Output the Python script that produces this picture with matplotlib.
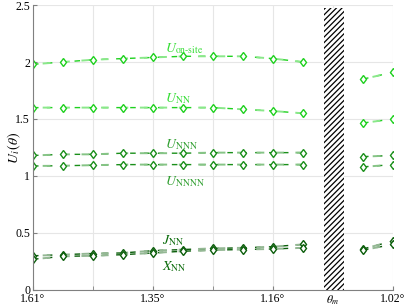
import numpy as np
import matplotlib.pyplot as plt
from matplotlib.patches import Rectangle

plt.rcParams['font.family'] = ['Liberation Serif', 'DejaVu Serif']
plt.rcParams['mathtext.fontset'] = 'stix'
plt.rcParams['hatch.linewidth'] = 0.9

# positions along the twist-angle axis (gap at theta_m)
xpos = [0, 1, 2, 3, 4, 5, 6, 7, 8, 9, 11, 12]
tick_pos = [0, 4, 8, 10, 12]
tick_labels = ['1.61°', '1.35°', '1.16°', r'$\theta_m$', '1.02°']

u_onsite = [1.98, 2.00, 2.02, 2.03, 2.04, 2.05, 2.05, 2.05, 2.03, 2.00, 1.85, 1.91]
u_nn = [1.60, 1.60, 1.60, 1.60, 1.60, 1.60, 1.60, 1.585, 1.57, 1.55, 1.465, 1.50]
u_nnn = [1.18, 1.19, 1.19, 1.20, 1.20, 1.20, 1.205, 1.205, 1.205, 1.205, 1.17, 1.18]
u_nnnn = [1.088, 1.09, 1.095, 1.10, 1.10, 1.10, 1.10, 1.10, 1.10, 1.10, 1.08, 1.10]
j_nn = [0.30, 0.31, 0.32, 0.325, 0.345, 0.355, 0.365, 0.37, 0.38, 0.40, 0.36, 0.43]
x_nn = [0.27, 0.295, 0.30, 0.31, 0.325, 0.34, 0.35, 0.355, 0.36, 0.37, 0.35, 0.40]

series = [
    (u_onsite, '#1fd11f', '#8ae88a'),
    (u_nn, '#1fd11f', '#8ae88a'),
    (u_nnn, '#1a8f1a', '#86c486'),
    (u_nnnn, '#1a8f1a', '#86c486'),
    (j_nn, '#0b5e0b', '#94b894'),
    (x_nn, '#0b5e0b', '#94b894'),
]

fig = plt.figure(figsize=(4.07, 3.07), dpi=100)
ax = fig.add_axes([0.081, 0.0554, 0.8846, 0.9283])


def draw(ax, xs, ys, dark, light):
    # two-tone dashes: dark and light segments alternating
    l1, = ax.plot(xs, ys, color=dark, lw=1.0)
    l1.set_dashes((4, 6))
    l2, = ax.plot(xs, ys, color=light, lw=1.4)
    l2.set_dashes((0, 5, 4, 1))
    ax.plot(xs, ys, ls='none', marker='d', ms=4.5, mfc='white', mec=dark, mew=1.0)


for ys, dark, light in series:
    draw(ax, xpos[:10], ys[:10], dark, light)
    draw(ax, xpos[10:], ys[10:], dark, light)

ax.add_patch(Rectangle((9.7, 0), 0.67, 2.47, facecolor='white', edgecolor='black',
                       hatch='//////', lw=0, zorder=3))

ax.set_xlim(0, 12)
ax.set_ylim(0, 2.5)
ax.set_xticks(tick_pos)
ax.set_xticklabels(tick_labels)
ax.set_xticks(np.arange(0, 13, 2), minor=True)
ax.set_yticks([0, 0.5, 1, 1.5, 2, 2.5])
ax.set_yticklabels(['0', '0.5', '1', '1.5', '2', '2.5'], va='center_baseline')
ax.grid(True, which='both', color='#e6e6e6', lw=0.8)
ax.set_axisbelow(True)
ax.tick_params(which='both', direction='in', length=3, color='#808080', labelsize=8.5, pad=2)
ax.tick_params(axis='x', pad=2.5)
for s in ['top', 'right']:
    ax.spines[s].set_visible(False)
for s in ['left', 'bottom']:
    ax.spines[s].set_color('#808080')
ax.set_ylabel(r'$U_i\,(\theta)$', fontsize=10)
ax.yaxis.set_label_coords(-0.028, 0.5)

ax.text(4.4, 2.09, r'$U_{\rm on\text{-}site}$', color='#33dd33', fontsize=10)
ax.text(4.4, 1.65, r'$U_{\rm NN}$', color='#33dd33', fontsize=10)
ax.text(4.4, 1.24, r'$U_{\rm NNN}$', color='#2e9e2e', fontsize=10)
ax.text(4.4, 0.92, r'$U_{\rm NNNN}$', color='#2e9e2e', fontsize=10)
ax.text(4.3, 0.40, r'$J_{\rm NN}$', color='#0b6b0b', fontsize=10)
ax.text(4.3, 0.17, r'$X_{\rm NN}$', color='#0b6b0b', fontsize=10)

fig.savefig('out.png', dpi=100)
